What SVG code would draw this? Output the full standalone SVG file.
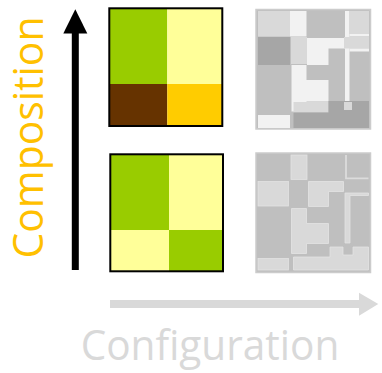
<svg xmlns="http://www.w3.org/2000/svg" width="382" height="373" viewBox="0 0 382 373">
<style>
.lbl{font-family:"Open Sans","Liberation Sans",sans-serif;font-size:42px}
.base{fill:#bfbfbf;stroke:#cccccc;stroke-width:1.5}
.lt{fill:#d9d9d9}
.wh{fill:#f2f2f2}
.dk{fill:#a6a6a6}
.lb{fill:#d9d9d9;stroke:#e3e3e3;stroke-width:0.8}
.grid{stroke:#000;stroke-width:2;fill:none}
</style>
<rect width="382" height="373" fill="#fff"/>
<g id="connectors">
  <g id="composition-arrow">
    <rect x="71.8" y="32" width="7" height="238" fill="#000"/>
    <polygon points="75.3,9.3 87.3,33.5 63.3,33.5" fill="#000"/>
  </g>
  <g id="configuration-arrow">
    <rect x="110" y="300" width="250" height="8" fill="#d9d9d9"/>
    <polygon points="359,292.7 378.3,304 359,315.7" fill="#d9d9d9"/>
  </g>
</g>
<g id="label-composition">
  <text class="lbl" fill="#ffc000" text-anchor="middle" transform="translate(43.3,137.5) rotate(-90)" textLength="242" lengthAdjust="spacingAndGlyphs">Composition</text>
</g>
<g id="label-configuration">
  <text class="lbl" fill="#d9d9d9" x="210" y="360" text-anchor="middle" textLength="258.6" lengthAdjust="spacingAndGlyphs">Configuration</text>
</g>
<g id="comp-top">
  <rect x="109.3" y="8.3" width="58" height="75.7" fill="#99cc00"/>
  <rect x="167.3" y="8.3" width="55" height="75.7" fill="#ffff99"/>
  <rect x="109.3" y="84" width="58" height="42" fill="#663300"/>
  <rect x="167.3" y="84" width="55" height="42" fill="#ffcc00"/>
  <rect class="grid" x="109.3" y="8.3" width="113" height="117.7"/>
</g>
<g id="comp-bottom">
  <rect x="110.3" y="154.3" width="58.7" height="75.7" fill="#99cc00"/>
  <rect x="169" y="154.3" width="54" height="75.7" fill="#ffff99"/>
  <rect x="110.3" y="230" width="58.7" height="41.3" fill="#ffff99"/>
  <rect x="169" y="230" width="54" height="41.3" fill="#99cc00"/>
  <rect class="grid" x="110.3" y="154.3" width="112.7" height="117"/>
</g>
<g id="config-top" transform="translate(256,9.5)">
  <rect class="base" x="0" y="0" width="114.5" height="119.5"/>
  <rect class="lt" x="2" y="1.5" width="32" height="25.5"/>
  <rect class="wh" x="34" y="1.5" width="16.5" height="25.5"/>
  <rect class="wh" x="89" y="1.5" width="4.5" height="91"/>
  <rect class="lt" x="93.5" y="1.5" width="19.5" height="23"/>
  <rect class="wh" x="93.5" y="24.5" width="19.5" height="2.5"/>
  <rect class="dk" x="2" y="27.5" width="32" height="28"/>
  <rect class="lt" x="35" y="27.5" width="16" height="27"/>
  <polygon class="wh" points="51,28.5 89,28.5 89,39 72.5,39 72.5,55.5 51,55.5"/>
  <rect class="lt" x="88" y="27.5" width="25" height="11.5"/>
  <rect class="wh" x="93.5" y="39" width="19.5" height="3"/>
  <polygon class="wh" points="35.5,55.5 50.5,55.5 50.5,70.5 72.5,70.5 72.5,92 50.5,92 50.5,102 35.5,102"/>
  <rect class="lt" x="37.5" y="92.5" width="35" height="10.5"/>
  <rect class="wh" x="2" y="105.5" width="32" height="13"/>
  <polygon class="dk" points="72.5,91.5 113,91.5 113,118.5 37.5,118.5 37.5,103 72.5,103"/>
  <rect class="lt" x="88" y="92.5" width="8" height="8"/>
</g>
<g id="config-bottom" transform="translate(256,153)">
  <rect class="base" x="0" y="0" width="114.5" height="119.5"/>
  <rect class="lb" x="35" y="2" width="16" height="24.5"/>
  <polyline points="90,2 90,25.4 112.5,25.4" fill="none" stroke="#dcdcdc" stroke-width="1.8"/>
  <rect class="lb" x="2" y="28.5" width="30.5" height="24.5"/>
  <polygon class="lb" points="52.5,28.5 87.5,28.5 87.5,38.5 72.5,38.5 72.5,53.5 52.5,53.5"/>
  <polygon class="lb" points="89,40 112.5,40 112.5,42.5 94,42.5 94,90 89,90"/>
  <polygon class="lb" points="35.5,55.5 50.5,55.5 50.5,70.5 72.5,70.5 72.5,90.5 50.5,90.5 50.5,100.5 35.5,100.5"/>
  <rect class="lb" x="2" y="105.5" width="30.5" height="11.5"/>
  <polygon class="lb" points="37.5,104 74,104 74,94 87,94 87,102 97,102 97,94 112.5,94 112.5,117 37.5,117"/>
</g>
</svg>
